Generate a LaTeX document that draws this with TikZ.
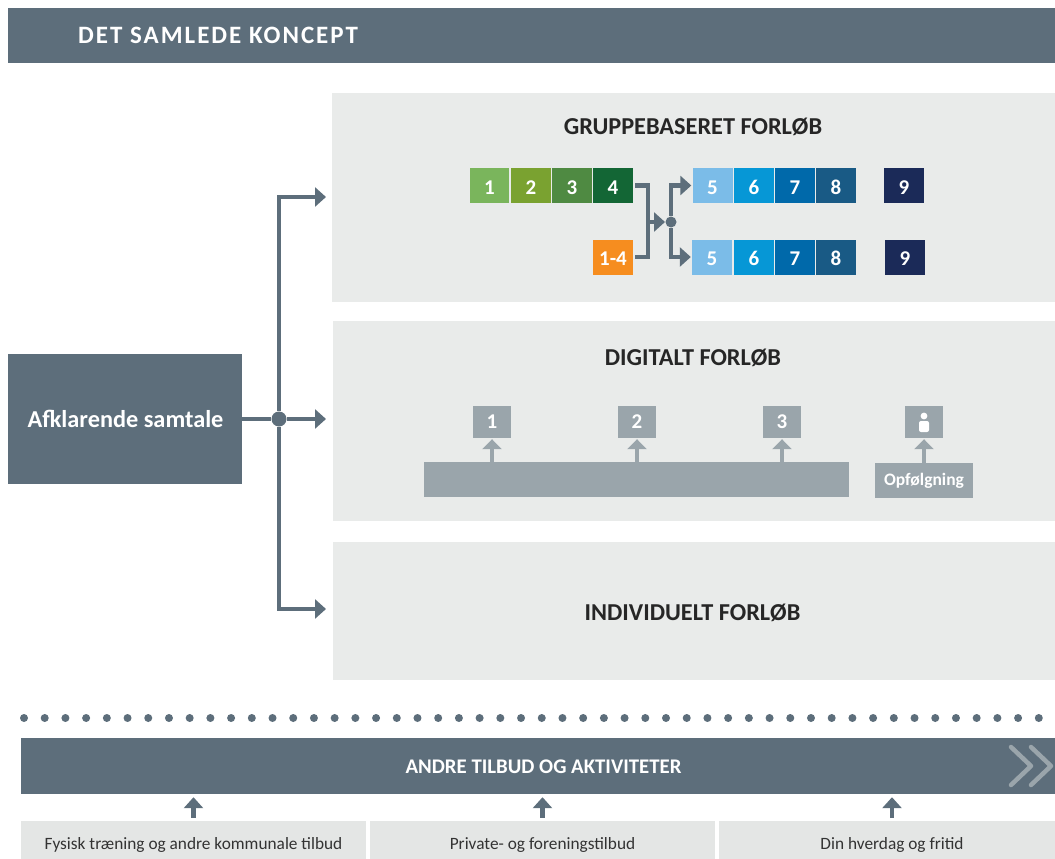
\documentclass[tikz,border=0pt]{standalone}
\usepackage{fontspec}
\setmainfont{Carlito}
\newfontfamily\spaced[LetterSpace=8]{Carlito}
\usetikzlibrary{arrows.meta}
\definecolor{slate}{HTML}{5D6E7B}
\definecolor{panel}{HTML}{E9EBEA}
\definecolor{stone}{HTML}{9AA5AB}
\definecolor{footbox}{HTML}{E4E6E5}
\definecolor{gA}{HTML}{7AB55C}
\definecolor{gB}{HTML}{7AA230}
\definecolor{gC}{HTML}{4F8A42}
\definecolor{gD}{HTML}{136635}
\definecolor{tangerine}{HTML}{F68D1F}
\definecolor{bA}{HTML}{7BBCE8}
\definecolor{bB}{HTML}{0697D6}
\definecolor{bC}{HTML}{0069AA}
\definecolor{bD}{HTML}{195A85}
\definecolor{navy}{HTML}{1B2A58}
\tikzset{
  block/.style={rectangle,inner sep=0pt,fill=#1},
  titlefont/.style={font=\bfseries\fontsize{24.3}{24.3}\selectfont,text=black!85},
  panelbox/.style={block=panel,titlefont},
  num/.style={block=#1,minimum width=40,minimum height=35,text=white,font=\bfseries\fontsize{21}{21}\selectfont,text height=20pt,text depth=3pt},
  dig/.style={block=stone,minimum width=38,minimum height=32,text=white,font=\bfseries\fontsize{21}{21}\selectfont,text height=15pt,text depth=3pt},
  foot/.style={block=footbox,minimum height=38,text=black!80,font=\fontsize{17.3}{17.3}\selectfont,text height=22pt,text depth=4pt},
  bigarrow/.style={slate,line width=4.6pt,-{Triangle[length=11pt,width=19pt]}},
  smallarrow/.style={slate,line width=4.6pt,-{Triangle[length=11pt,width=19pt]}},
  digarrow/.style={stone,line width=4.6pt,-{Triangle[length=10pt,width=19pt]}},
  pipe/.style={slate,line width=4.6pt}
}
\begin{document}
\begin{tikzpicture}[x=1pt,y=-1pt]
  \useasboundingbox (0,0) rectangle (1055,859);
  % top band
  \node[block=slate,minimum width=1047,minimum height=55] (top) at (531.5,35.5) {};
  \node[anchor=west,inner sep=0pt,text=white,font=\spaced\bfseries\fontsize{25}{25}\selectfont] (toplabel) at (78,35) {DET SAMLEDE KONCEPT};
  % panels
  \node[panelbox,minimum width=723,minimum height=209] (gruppe) at (693.5,197.5) {};
  \node[panelbox,minimum width=722,minimum height=200] (digital) at (694,421) {};
  \node[block=panel,minimum width=722,minimum height=138] (indiv) at (694,611) {};
  \node[inner sep=0pt,titlefont] (gruppelabel) at (693,126.5) {GRUPPEBASERET FORLØB};
  \node[inner sep=0pt,titlefont] (digitallabel) at (693,357.5) {DIGITALT FORLØB};
  \node[inner sep=0pt,titlefont] (indivlabel) at (692.5,613) {INDIVIDUELT FORLØB};
  % left box and branches
  \node[block=slate,minimum width=234,minimum height=130] (start) at (125,419) {};
  \node[inner sep=0pt,titlefont,text=white] (startlabel) at (125.5,419) {Afklarende samtale};
  \node[circle,fill=slate,inner sep=0pt,minimum size=15] (hub) at (279,419) {};
  \coordinate (toG) at (326,197);
  \coordinate (toD) at (326,419);
  \coordinate (toI) at (326,609);
  \draw[pipe] (start.east) -- (hub);
  \draw[bigarrow] (hub) |- (toG);
  \draw[bigarrow] (hub) -- (toD);
  \draw[bigarrow] (hub) |- (toI);
  % group course
  \node[num=gA,minimum width=39] (a1) at (489.5,185.5) {1};
  \node[num=gB] (a2) at (531,185.5) {2};
  \node[num=gC] (a3) at (572,185.5) {3};
  \node[num=gD] (a4) at (613,185.5) {4};
  \node[num=tangerine] (b4) at (613,257) {1-4};
  \foreach \n/\c/\x in {5/bA/712.5,6/bB/754,7/bC/795,8/bD/836,9/navy/904}{
    \node[num=\c] (u\n) at (\x,185.5) {\n};
  }
  \foreach \n/\c/\x in {5/bA/712,6/bB/754,7/bC/795,8/bD/836,9/navy/905}{
    \node[num=\c] (l\n) at (\x,257) {\n};
  }
  \node[circle,fill=slate,inner sep=0pt,minimum size=11] (fork) at (671,222) {};
  \coordinate (join) at (648,222);
  \coordinate (joinend) at (665,222);
  \draw[pipe] ([xshift=2pt]a4.east) -| (join);
  \draw[pipe] ([xshift=2pt]b4.east) -| (join);
  \draw[smallarrow] (join) -- (joinend);
  \draw[smallarrow] (fork) |- ([xshift=-1pt]u5.west);
  \draw[smallarrow] (fork) |- ([xshift=-1pt]l5.west);
  % digital course
  \node[dig] (d1) at (492,422) {1};
  \node[dig] (d2) at (637,422) {2};
  \node[dig] (d3) at (782,422) {3};
  \node[dig] (d4) at (924,422) {};
  \fill[white] (924,416) circle (3.4);
  \fill[white,rounded corners=2pt] (919,432) rectangle (929,421);
  \node[block=stone,minimum width=425,minimum height=35] (bar) at (636.5,479.5) {};
  \node[block=stone,minimum width=98,minimum height=35,text=white,font=\bfseries\fontsize{17.5}{17.5}\selectfont] (opf) at (924,480.5) {Opfølgning};
  \foreach \n in {1,2,3}{
    \draw[digarrow] (d\n |- bar.north) -- ([yshift=-1pt]d\n.south);
  }
  \draw[digarrow] (opf.north) -- ([yshift=-1pt]d4.south);
  % dotted rule
  \foreach \i in {0,...,49}{
    \fill[slate] ({24+\i*20.71},718) circle (4);
  }
  % other offers
  \node[block=slate,minimum width=1034,minimum height=56] (andre) at (538,766) {};
  \node[inner sep=0pt,text=white,font=\bfseries\fontsize{20.8}{20.8}\selectfont] (andrelabel) at (543.5,766.5) {ANDRE TILBUD OG AKTIVITETER};
  \draw[stone,line width=4.5pt,line join=round,line cap=round] (1011,747) -- (1031,766) -- (1011,785);
  \draw[stone,line width=4.5pt,line join=round,line cap=round] (1031,747) -- (1051,766) -- (1031,785);
  \node[foot,minimum width=345] (f1) at (193.5,840) {Fysisk træning og andre kommunale tilbud};
  \node[foot,minimum width=345] (f2) at (542.5,840) {Private- og foreningstilbud};
  \node[foot,minimum width=336] (f3) at (887,840) {\hspace*{10pt}Din hverdag og fritid};
  \coordinate (f3top) at (892,818);
  \draw[smallarrow] ([yshift=3pt]f1.north) -- ([yshift=-3pt]f1.north |- andre.south);
  \draw[smallarrow] ([yshift=3pt]f2.north) -- ([yshift=-3pt]f2.north |- andre.south);
  \draw[smallarrow] (f3top) -- ([yshift=-3pt]f3top |- andre.south);
\end{tikzpicture}
\end{document}
